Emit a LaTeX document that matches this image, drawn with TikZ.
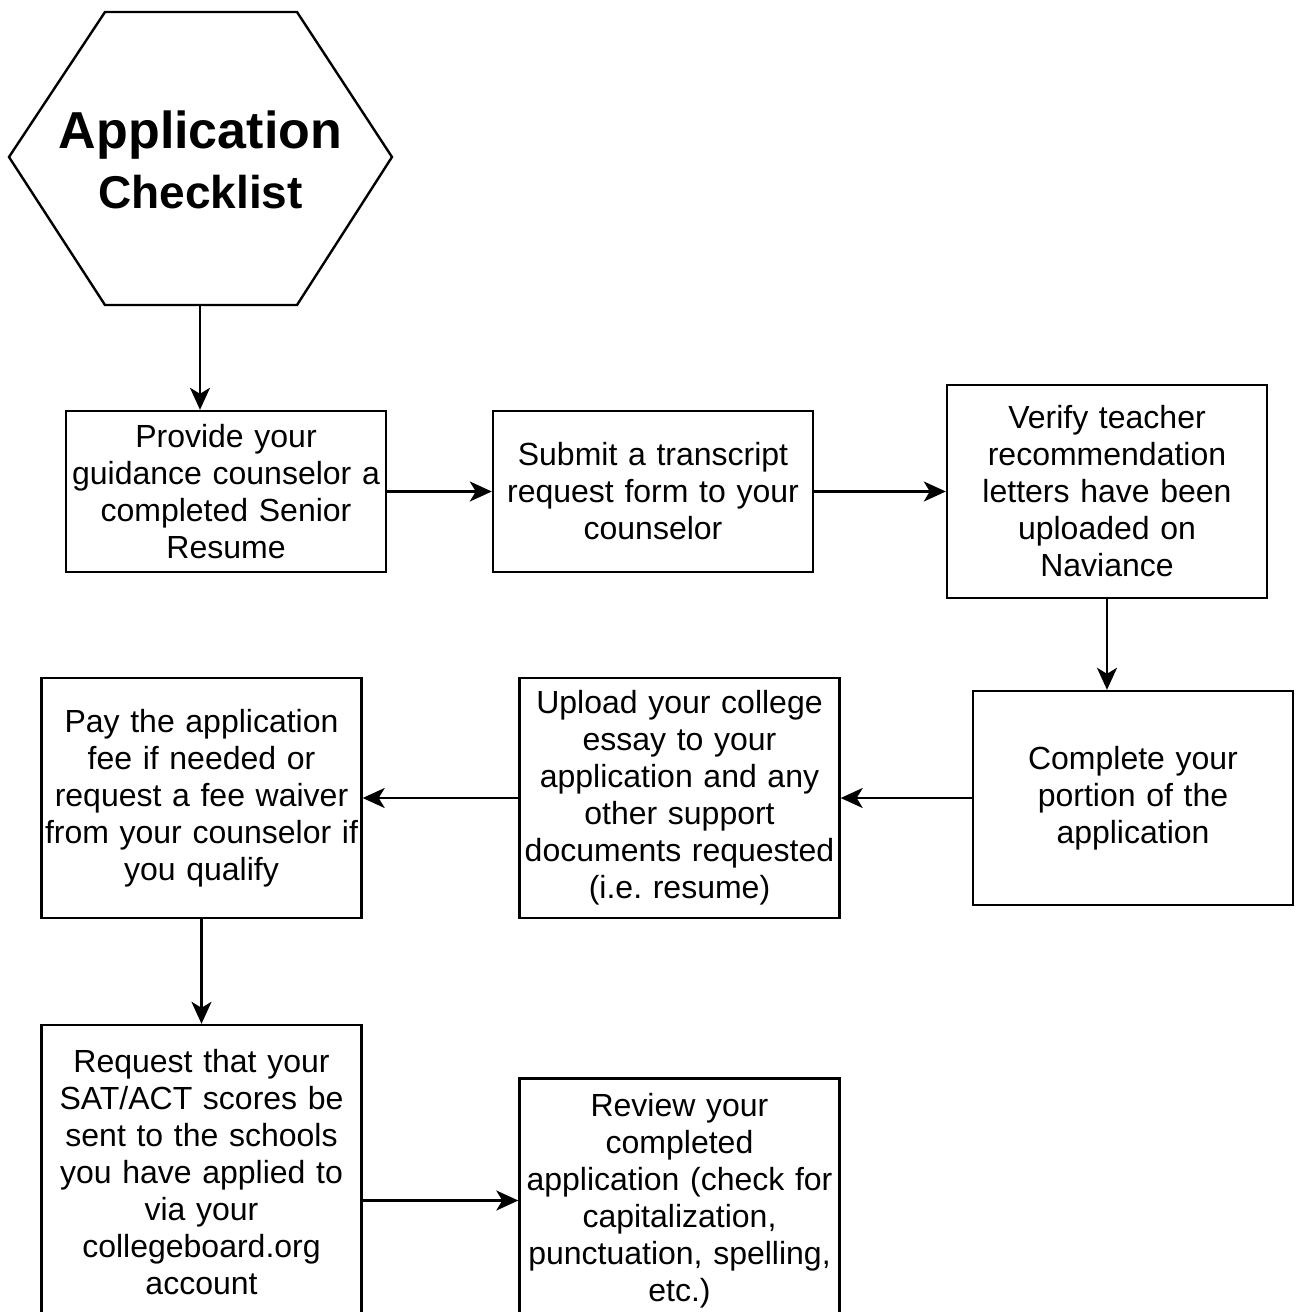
\documentclass[tikz,border=0pt]{standalone}
\usepackage{fontspec}
\setmainfont{Liberation Sans}
\usetikzlibrary{positioning,arrows.meta}

\tikzstyle{block} = [rectangle, draw, line width=1.2pt, text width=158pt, align=center,
     inner sep=0pt, minimum width=160pt, font=\fontsize{16}{18.5}\selectfont]
\tikzstyle{line} = [draw, line width=1.2pt, -{Stealth[length=11pt,width=10pt,inset=3pt]}]

\begin{document}
\begin{tikzpicture}[x=1pt, y=1pt, node distance=213.5pt]
    \useasboundingbox (0,0) rectangle (651,-656);
    \clip (0,0) rectangle (651,-656);
    % Place nodes
    \draw [line width=1.2pt] (4.5,-78.5) -- (52.5,-6) -- (148.5,-6) -- (196,-78.5) -- (148.5,-152.5) -- (52.5,-152.5) -- cycle;
    \node [align=center, font=\bfseries] (title) at (100.25,-80) {\fontsize{26}{31}\selectfont Application\\[7pt] \fontsize{23}{31}\selectfont Checklist};
    \coordinate (hex_bottom) at (100,-152.5);
    \node [block, minimum height=80.5pt] (resume) at (113,-245.75) {Provide your\\ guidance counselor a\\ completed Senior\\ Resume};
    \node [block, right of=resume, minimum height=80.5pt] (transcript) {Submit a transcript\\ request form to your\\ counselor};
    \node [block, right of=transcript, node distance=227pt, minimum height=106.5pt] (verify) {Verify teacher\\ recommendation\\ letters have been\\ uploaded on\\ Naviance};
    \node [block, below of=verify, node distance=153.25pt, xshift=13pt, minimum height=107pt] (complete) {Complete your\\ portion of the\\ application};
    \node [block, left of=complete, node distance=226.75pt, minimum height=120pt] (upload) {Upload your college\\ essay to your\\ application and any\\ other support\\ documents requested\\ (i.e.\ resume)};
    \node [block, left of=upload, node distance=239pt, minimum height=120pt] (fee) {Pay the application\\ fee if needed or\\ request a fee waiver\\ from your counselor if\\ you qualify};
    \node [block, below of=fee, node distance=187.25pt, minimum height=147.5pt] (scores) {Request that your\\ SAT/ACT scores be\\ sent to the schools\\ you have applied to\\ via your\\ collegeboard.org\\ account};
    \node [block, right of=scores, node distance=239pt, yshift=-14pt, minimum height=122pt] (review) {Review your\\ completed\\ application (check for\\ capitalization,\\ punctuation, spelling,\\ etc.)};

    % Draw edges
    \path [line] (hex_bottom) -- (hex_bottom |- resume.north);
    \path [line] (resume) -- (transcript);
    \path [line] (transcript) -- (verify);
    \path [line] (verify.south) -- (verify.south |- complete.north);
    \path [line] (complete) -- (upload);
    \path [line] (upload) -- (fee);
    \path [line] (fee) -- (scores);
    \path [line] (scores.east |- review) -- (review);

\end{tikzpicture}
\end{document}
